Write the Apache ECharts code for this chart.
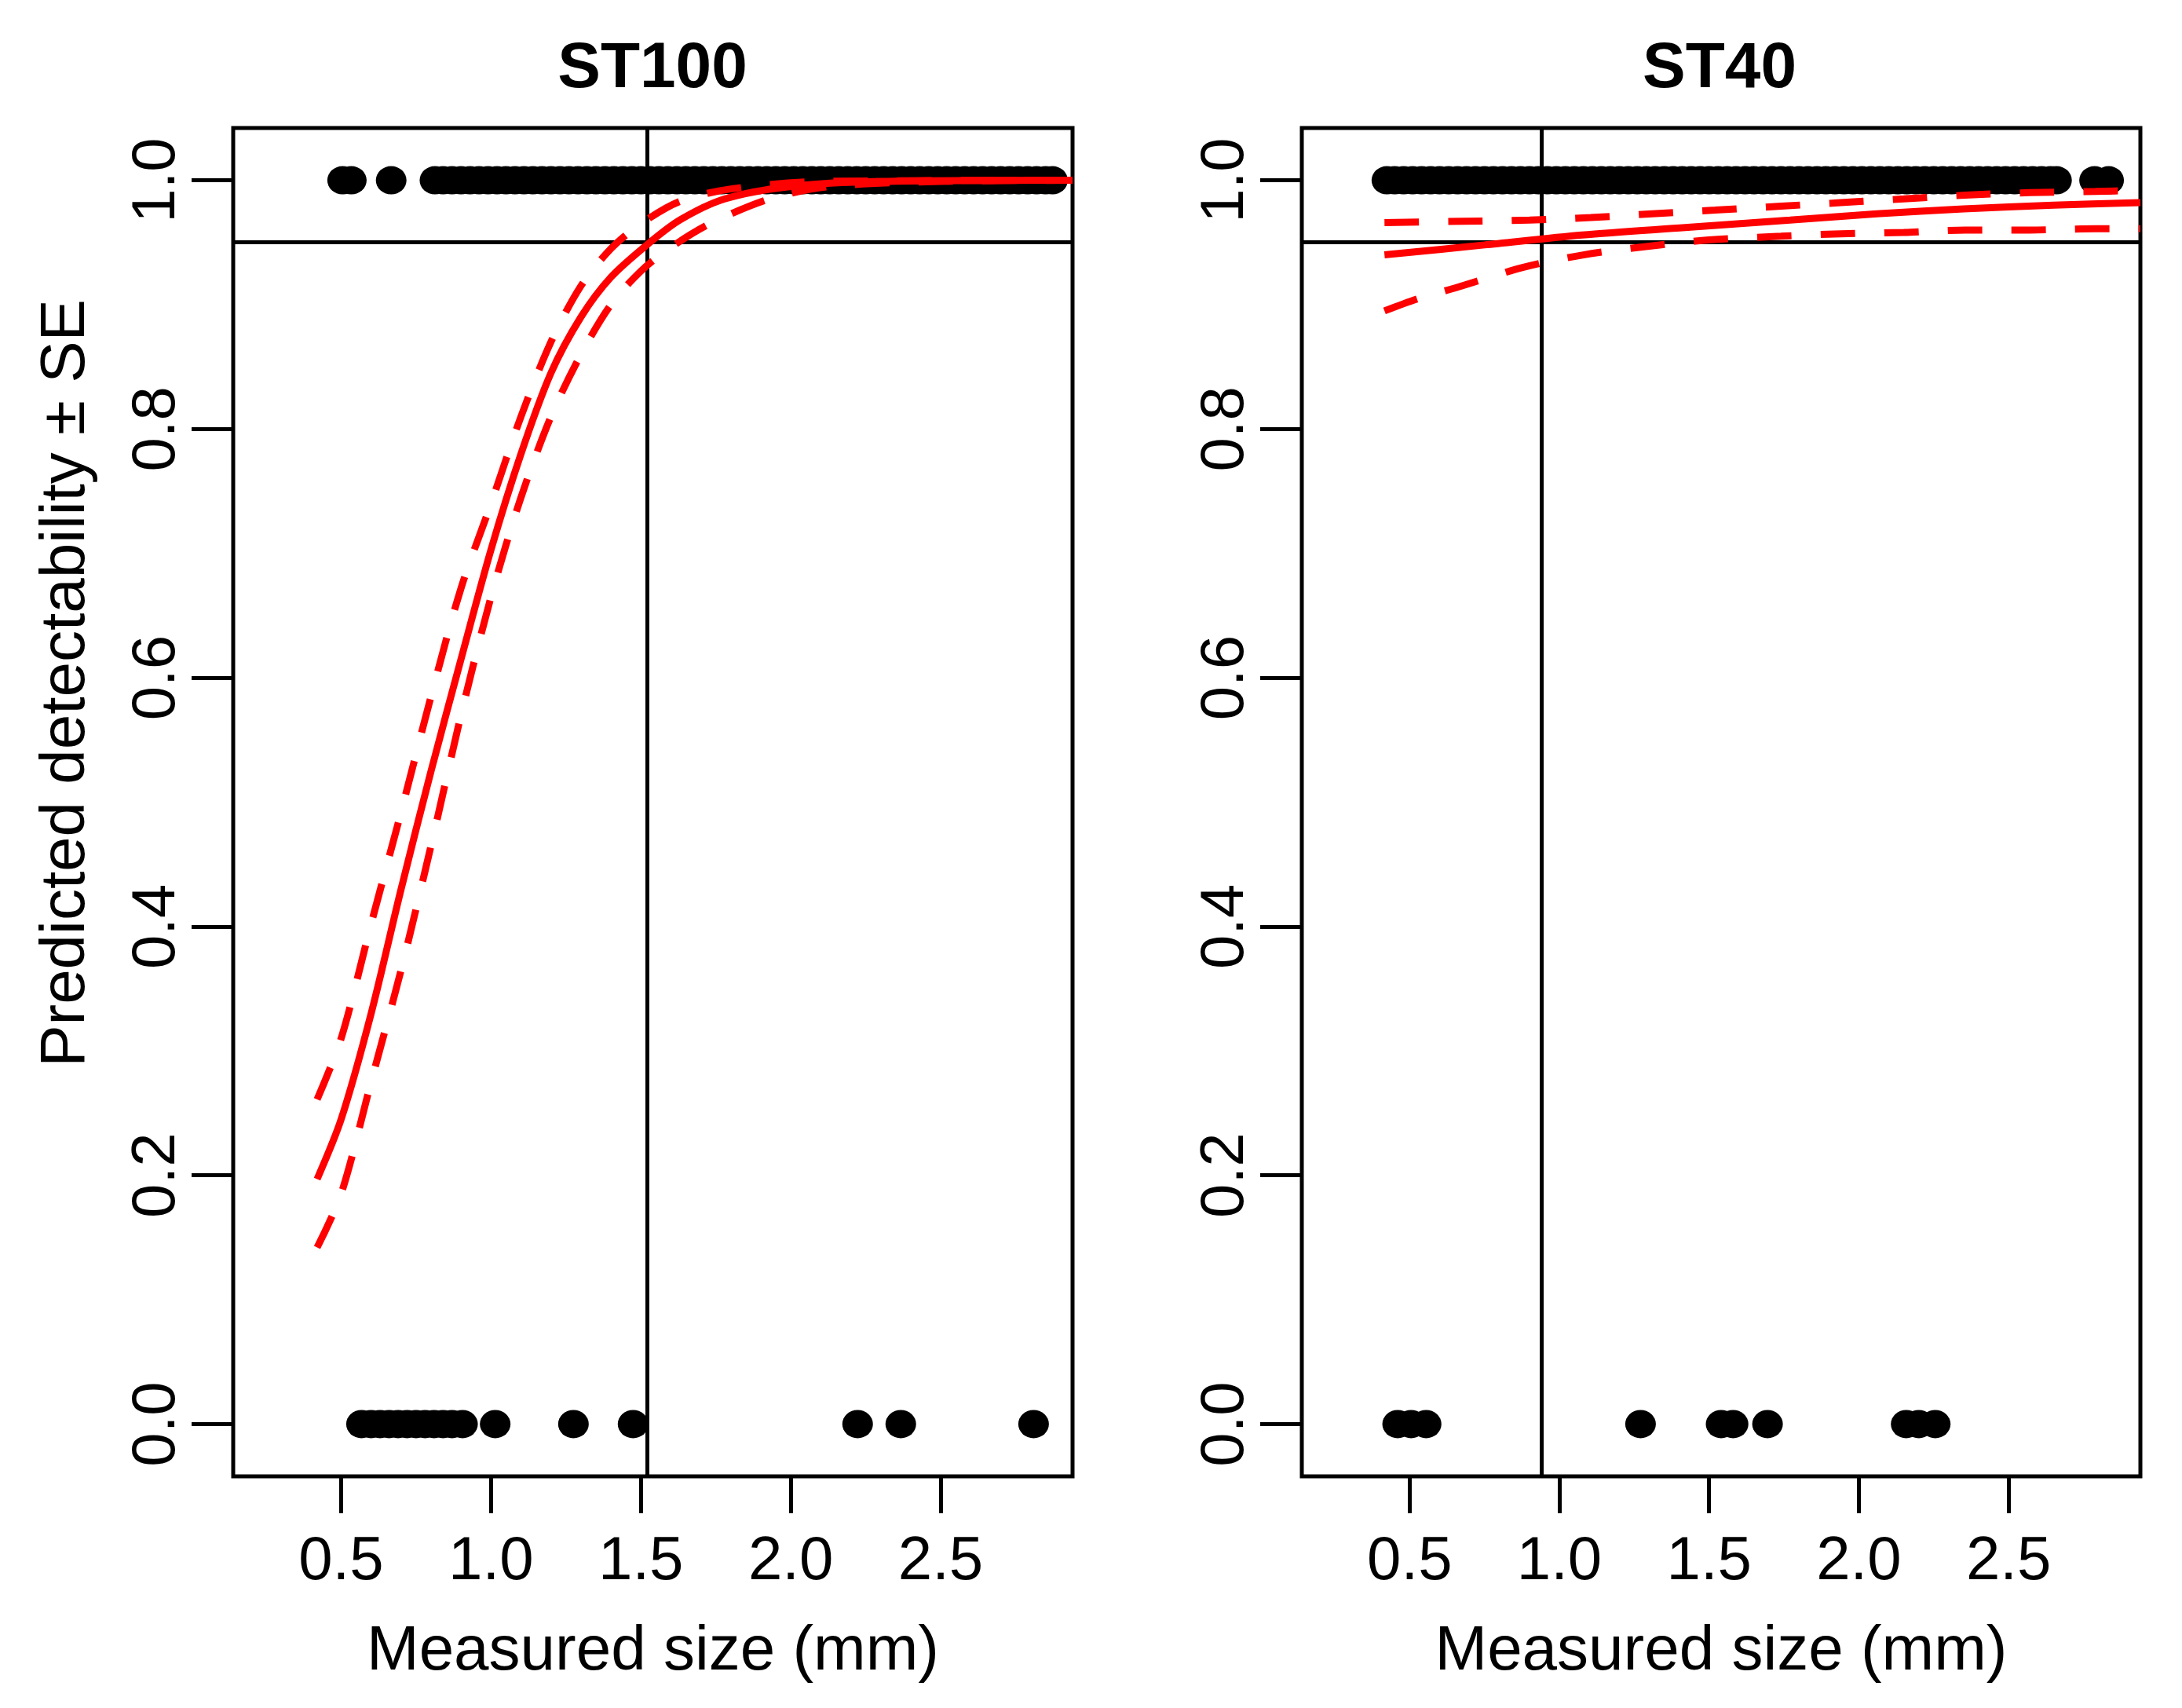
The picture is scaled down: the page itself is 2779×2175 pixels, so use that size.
<!DOCTYPE html>
<html>
<head>
<meta charset="utf-8">
<script src="https://cdn.jsdelivr.net/npm/echarts@6/dist/echarts.min.js"></script>
<style>
  html, body { margin: 0; padding: 0; background: #fff; }
  #chart { width: 2779px; height: 2175px; }
</style>
</head>
<body>
<div id="chart"></div>
<script>
// observed sizes (mm), detected = 1, missed = 0
var st100Detected = [0.505, 0.534, 0.667, 0.813, 0.84, 0.87, 0.9, 0.93, 0.96, 0.99, 1.02, 1.05, 1.08, 1.11,
  1.14, 1.17, 1.2, 1.23, 1.26, 1.29, 1.32, 1.35, 1.38, 1.41, 1.44, 1.47, 1.5, 1.53, 1.56, 1.59, 1.62, 1.65,
  1.68, 1.71, 1.74, 1.77, 1.8, 1.83, 1.86, 1.89, 1.92, 1.95, 1.98, 2.01, 2.04, 2.07, 2.1, 2.13, 2.16, 2.19,
  2.22, 2.25, 2.28, 2.31, 2.34, 2.37, 2.4, 2.43, 2.46, 2.49, 2.52, 2.55, 2.58, 2.61, 2.64, 2.67, 2.7, 2.73,
  2.76, 2.79, 2.82, 2.85, 2.873];
var st100Missed = [0.568, 0.6, 0.63, 0.66, 0.69, 0.72, 0.75, 0.78, 0.81, 0.84, 0.87, 0.905, 1.014, 1.275,
  1.474, 2.223, 2.367, 2.81];
var st40Detected = [0.424, 0.45, 0.48, 0.51, 0.54, 0.57, 0.6, 0.63, 0.66, 0.69, 0.72, 0.75, 0.78, 0.81, 0.84,
  0.87, 0.9, 0.93, 0.96, 0.99, 1.02, 1.05, 1.08, 1.11, 1.14, 1.17, 1.2, 1.23, 1.26, 1.29, 1.32, 1.35, 1.38,
  1.41, 1.44, 1.47, 1.5, 1.53, 1.56, 1.59, 1.62, 1.65, 1.68, 1.71, 1.74, 1.77, 1.8, 1.83, 1.86, 1.89, 1.92,
  1.95, 1.98, 2.01, 2.04, 2.07, 2.1, 2.13, 2.16, 2.19, 2.22, 2.25, 2.28, 2.31, 2.34, 2.37, 2.4, 2.43, 2.46,
  2.49, 2.52, 2.55, 2.58, 2.61, 2.64, 2.66, 2.787, 2.834];
var st40Missed = [0.46, 0.505, 0.555, 1.271, 1.54, 1.58, 1.695, 2.158, 2.2, 2.255];

// fitted detectability and +/- SE
var st100Fit = [[0.42, 0.197], [0.50, 0.245], [0.60, 0.330], [0.70, 0.430], [0.80, 0.525], [0.90, 0.615],
  [1.00, 0.703], [1.10, 0.780], [1.20, 0.845], [1.30, 0.890], [1.40, 0.922], [1.52, 0.948], [1.63, 0.968],
  [1.78, 0.985], [2.0, 0.995], [2.3, 0.999], [2.94, 1.0]];
var st100Upper = [[0.42, 0.261], [0.50, 0.310], [0.60, 0.402], [0.70, 0.492], [0.80, 0.585], [0.90, 0.672],
  [1.00, 0.740], [1.10, 0.810], [1.20, 0.870], [1.30, 0.915], [1.40, 0.945], [1.50, 0.965], [1.63, 0.983],
  [1.80, 0.993], [2.1, 0.999], [2.94, 1.0]];
var st100Lower = [[0.42, 0.142], [0.50, 0.185], [0.60, 0.275], [0.70, 0.365], [0.80, 0.465], [0.90, 0.570],
  [1.00, 0.665], [1.10, 0.745], [1.20, 0.810], [1.30, 0.860], [1.40, 0.900], [1.50, 0.927], [1.60, 0.946],
  [1.73, 0.965], [1.93, 0.985], [2.13, 0.995], [2.5, 0.999], [2.94, 1.0]];
var st40Fit = [[0.416, 0.940], [0.75, 0.948], [1.076, 0.956], [1.42, 0.962], [1.77, 0.968], [2.06, 0.973],
  [2.35, 0.977], [2.65, 0.980], [2.94, 0.982]];
var st40Upper = [[0.416, 0.966], [0.68, 0.967], [0.90, 0.968], [1.105, 0.970], [1.31, 0.973], [1.52, 0.976],
  [1.73, 0.979], [1.94, 0.982], [2.15, 0.985], [2.355, 0.988], [2.57, 0.990], [2.79, 0.991], [2.94, 0.992]];
var st40Lower = [[0.416, 0.895], [0.53, 0.905], [0.66, 0.914], [0.88, 0.930], [1.08, 0.940], [1.30, 0.947],
  [1.50, 0.952], [1.74, 0.955], [1.94, 0.957], [2.15, 0.958], [2.355, 0.960], [2.57, 0.960], [2.79, 0.961],
  [2.94, 0.961]];

// reference lines: size threshold per panel and 0.95 detectability
var thresholds = [1.52, 0.945];
var targetDetect = 0.95;

var xTicks = [0.5, 1.0, 1.5, 2.0, 2.5];
var yTicks = [0, 0.2, 0.4, 0.6, 0.8, 1.0];
var panelTitles = ['ST100', 'ST40'];

var font = 'Liberation Sans, Arial, Helvetica, sans-serif';
var chart = echarts.init(document.getElementById('chart'));

function xAxisFor(i) {
  return {
    type: 'value', gridIndex: i, min: 0.14, max: 2.94,
    axisLine: { show: false, onZero: false },
    axisTick: { show: true, length: 47, customValues: xTicks, lineStyle: { color: '#000', width: 5 } },
    axisLabel: { customValues: xTicks, margin: 70, fontSize: 78, color: '#000', fontFamily: font,
      formatter: function (v) { return v.toFixed(1); } },
    splitLine: { show: false },
    name: 'Measured size (mm)', nameLocation: 'middle', nameGap: 184,
    nameTextStyle: { fontSize: 80, color: '#000', fontFamily: font }
  };
}
function yAxisFor(i) {
  return {
    type: 'value', gridIndex: i, min: -0.042, max: 1.042,
    axisLine: { show: false, onZero: false },
    axisTick: { show: true, length: 53, customValues: yTicks, lineStyle: { color: '#000', width: 5 } },
    axisLabel: { customValues: yTicks, rotate: 90, margin: 58, fontSize: 78, color: '#000', fontFamily: font,
      formatter: function (v) { return v.toFixed(1); } },
    splitLine: { show: false }
  };
}
function dots(xs, y, i) {
  return {
    type: 'scatter', xAxisIndex: i, yAxisIndex: i, z: 2,
    symbol: 'circle', symbolSize: [39, 36],
    itemStyle: { color: '#000', opacity: 1 },
    data: xs.map(function (x) { return [x, y]; })
  };
}
function curve(pts, i, dashed, refLines) {
  var s = {
    type: 'line', xAxisIndex: i, yAxisIndex: i, z: 3,
    showSymbol: false, smooth: 0.3,
    lineStyle: { color: '#ff0000', width: 9, type: dashed ? [44, 37] : 'solid', cap: 'butt' },
    data: pts
  };
  if (refLines) {
    s.markLine = {
      silent: true, symbol: 'none', label: { show: false }, z: 1,
      lineStyle: { color: '#000', width: 5, type: 'solid' },
      data: [{ xAxis: thresholds[i] }, { yAxis: targetDetect }]
    };
  }
  return s;
}

var option = {
  animation: false,
  backgroundColor: '#fff',
  grid: [
    { left: 297, top: 163, width: 1069, height: 1717, show: true, borderColor: '#000', borderWidth: 5, backgroundColor: 'transparent' },
    { left: 1658, top: 163, width: 1068, height: 1717, show: true, borderColor: '#000', borderWidth: 5, backgroundColor: 'transparent' }
  ],
  xAxis: [xAxisFor(0), xAxisFor(1)],
  yAxis: [yAxisFor(0), yAxisFor(1)],
  graphic: [
    { type: 'text', x: 831, y: 88, style: { text: panelTitles[0], font: 'bold 82px ' + font, fill: '#000', textAlign: 'center', textVerticalAlign: 'middle' } },
    { type: 'text', x: 2190, y: 88, style: { text: panelTitles[1], font: 'bold 82px ' + font, fill: '#000', textAlign: 'center', textVerticalAlign: 'middle' } },
    { type: 'text', x: 85, y: 870, rotation: Math.PI / 2, style: { text: 'Predicted detectability ± SE', font: '80px ' + font, fill: '#000', textAlign: 'center', textVerticalAlign: 'middle' } }
  ],
  series: [
    dots(st100Detected, 1, 0),
    dots(st100Missed, 0, 0),
    curve(st100Fit, 0, false, true),
    curve(st100Upper, 0, true),
    curve(st100Lower, 0, true),
    dots(st40Detected, 1, 1),
    dots(st40Missed, 0, 1),
    curve(st40Fit, 1, false, true),
    curve(st40Upper, 1, true),
    curve(st40Lower, 1, true)
  ]
};
chart.setOption(option);
</script>
</body>
</html>
